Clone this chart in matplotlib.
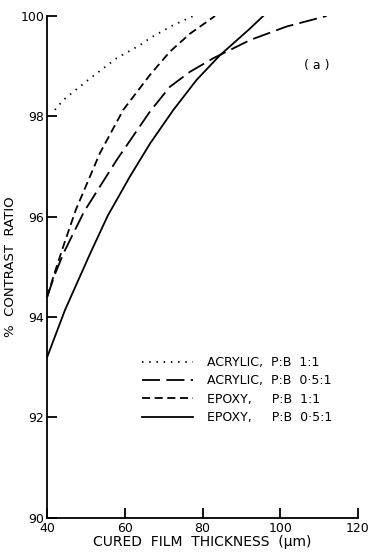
import matplotlib
matplotlib.use("Agg")
import matplotlib.pyplot as plt

# cured film thickness (um) vs % contrast ratio
acr11_x = [42.0, 44.2, 51.1, 57.9, 63.9, 66.5, 72.0, 77.6]
acr11_y = [98.13, 98.33, 98.76, 99.16, 99.42, 99.56, 99.80, 100.0]

acr051_x = [40.0, 42.0, 44.2, 49.5, 57.9, 66.5, 71.6, 76.8, 82.8, 86.2, 92.2, 101.6, 111.9]
acr051_y = [94.40, 94.85, 95.27, 96.10, 97.13, 98.10, 98.59, 98.89, 99.16, 99.29, 99.52, 99.79, 100.0]

epx11_x = [40.0, 42.0, 44.2, 47.4, 53.6, 59.6, 66.5, 71.6, 76.8, 83.2]
epx11_y = [94.40, 94.90, 95.42, 96.14, 97.27, 98.13, 98.83, 99.29, 99.65, 100.0]

epx051_x = [40.0, 44.6, 51.1, 55.6, 61.3, 66.5, 72.5, 78.5, 84.5, 92.2, 95.6]
epx051_y = [93.20, 94.14, 95.27, 96.02, 96.80, 97.46, 98.13, 98.73, 99.22, 99.75, 100.0]

labels = [
    "ACRYLIC,  P:B  1:1",
    "ACRYLIC,  P:B  0\u00b75:1",
    "EPOXY,     P:B  1:1",
    "EPOXY,     P:B  0\u00b75:1",
]

plt.rcParams["font.family"] = ["DejaVu Sans"]
fig = plt.figure(figsize=(3.71, 5.52), dpi=100)
ax = fig.add_axes([0.127, 0.062, 0.838, 0.909])

lw = 1.3
ax.plot(acr11_x, acr11_y, color="black", lw=lw, linestyle=(0, (0.8, 3.2)), label=labels[0])
ax.plot(acr051_x, acr051_y, color="black", lw=lw, linestyle=(0, (10, 3.5)), label=labels[1])
ax.plot(epx11_x, epx11_y, color="black", lw=lw, linestyle=(0, (4.5, 2.5)), label=labels[2])
ax.plot(epx051_x, epx051_y, color="black", lw=lw, linestyle="-", label=labels[3])

ax.set_xlim(40, 120)
ax.set_ylim(90, 100)
ax.set_xticks([40, 60, 80, 100, 120])
ax.set_yticks([90, 92, 94, 96, 98, 100])
ax.spines["top"].set_visible(False)
ax.spines["right"].set_visible(False)
for s in ["left", "bottom"]:
    ax.spines[s].set_linewidth(1.3)
ax.tick_params(direction="in", length=7, width=1.3, labelsize=9)
ax.tick_params(axis="x", pad=3)
ax.tick_params(axis="y", pad=2)

ax.set_xlabel("CURED  FILM  THICKNESS  (\u00b5m)", fontsize=10, labelpad=0)
ax.set_ylabel("%  CONTRAST  RATIO", fontsize=9.5)
ax.yaxis.set_label_coords(-0.096, 0.5)

ax.text(109.3, 99.02, "( a )", fontsize=9, ha="center", va="center")

ax.legend(loc="upper left", bbox_to_anchor=(0.305, 0.322), frameon=False,
          borderpad=0, borderaxespad=0, fontsize=9, handlelength=4.1,
          handletextpad=1.1, labelspacing=0.42)

fig.savefig("out.png", dpi=100)
